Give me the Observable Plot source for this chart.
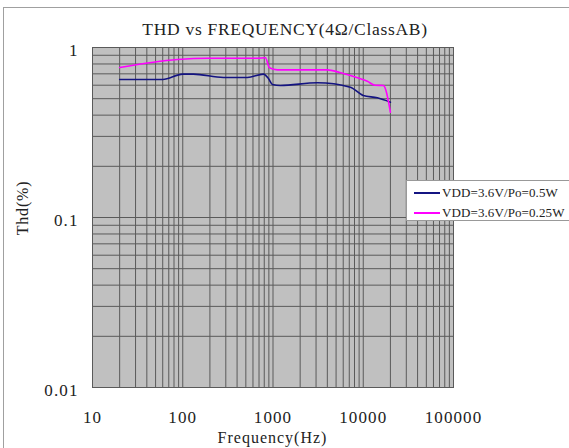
<!DOCTYPE html>
<html>
<head>
<meta charset="utf-8">
<script src="https://cdn.jsdelivr.net/npm/d3@7"></script>
<script src="https://cdn.jsdelivr.net/npm/@observablehq/plot@0.6"></script>
<style>
  html, body { margin: 0; padding: 0; background: #fff; }
  #wrap { position: relative; width: 569px; height: 448px; overflow: hidden; font-family: "Liberation Serif", serif; }
  #border { position: absolute; left: 3px; top: 7px; width: 700px; height: 600px; border-left: 1px solid #a0a0a0; border-top: 1px solid #a0a0a0; }
  #title { position: absolute; left: 0; width: 570px; top: 19px; text-align: center; font-size: 17.5px; letter-spacing: 0.7px; color: #222; }
  #ylabel { position: absolute; left: 23px; top: 208px; transform: translate(-50%, -50%) rotate(-90deg); font-size: 16px; letter-spacing: 0.8px; white-space: nowrap; color: #222; }
  #xlabel { position: absolute; left: 0; width: 545px; top: 429px; text-align: center; font-size: 16px; letter-spacing: 1px; color: #222; }
  #legend { position: absolute; left: 406px; top: 180px; width: 200px; height: 39px; background: #fff; border: 1px solid #999; }
  .row { position: absolute; left: 0; height: 18px; display: flex; align-items: center; font-size: 13px; letter-spacing: 0.1px; white-space: nowrap; color: #222; }
  .sw { width: 26px; height: 2px; margin-left: 7px; margin-right: 2px; }
  svg { position: absolute; left: 0; top: 0; }
</style>
</head>
<body>
<div id="wrap">
  <div id="border"></div>
  <div id="chart"></div>
  <div id="title"></div>
  <div id="ylabel"></div>
  <div id="xlabel"></div>
  <div id="legend"></div>
</div>
<script>
const titleText = "THD vs FREQUENCY(4Ω/ClassAB)";
const xLabelText = "Frequency(Hz)";
const yLabelText = "Thd(%)";

const seriesNames = ["VDD=3.6V/Po=0.5W", "VDD=3.6V/Po=0.25W"];
const seriesColors = ["#141482", "#ff00ff"];

// Series 1: VDD=3.6V/Po=0.5W
const freq05 = [20, 60, 100, 131, 282, 521, 783, 890, 985, 1208, 3105, 7197, 10000, 14320, 20000];
const thd05  = [0.648, 0.648, 0.697, 0.697, 0.666, 0.666, 0.697, 0.657, 0.606, 0.598, 0.620, 0.584, 0.522, 0.506, 0.477];

// Series 2: VDD=3.6V/Po=0.25W
const freq025 = [20, 87, 187, 671, 824, 912, 1118, 4000, 5500, 7200, 11100, 13500, 16700, 20000];
const thd025  = [0.763, 0.850, 0.865, 0.865, 0.870, 0.760, 0.739, 0.739, 0.713, 0.684, 0.633, 0.600, 0.598, 0.416];

const xTicks = [10, 100, 1000, 10000, 100000];
const xTickLabels = ["10", "100", "1000", "10000", "100000"];
const yTicks = [0.01, 0.1, 1];
const yTickLabels = ["0.01", "0.1", "1"];

// log grid: 1..9 x each decade
const xGrid = [];
for (let e = 1; e <= 4; e++) for (let m = 1; m <= 9; m++) xGrid.push(m * 10 ** e);
xGrid.push(100000);
const yGrid = [];
for (let e = -2; e <= -1; e++) for (let m = 1; m <= 9; m++) yGrid.push(+(m * 10 ** e).toFixed(4));
yGrid.push(1);

const data05 = freq05.map((f, i) => ({f, v: thd05[i]}));
const data025 = freq025.map((f, i) => ({f, v: thd025[i]}));

const gridColor = "#5a5a5a";

const chart = Plot.plot({
  width: 569,
  height: 448,
  marginLeft: 92,
  marginRight: 116,
  marginTop: 47,
  marginBottom: 61,
  style: { fontFamily: "Liberation Serif, serif", fontSize: "17px", background: "transparent", color: "#222", letterSpacing: "1.1px" },
  x: { type: "log", domain: [10, 100000] },
  y: { type: "log", domain: [0.01, 1] },
  marks: [
    Plot.frame({ fill: "#c0c0c0" }),
    Plot.ruleX(xGrid, { stroke: gridColor, strokeWidth: 1 }),
    Plot.ruleY(yGrid, { stroke: gridColor, strokeWidth: 1 }),
    Plot.frame({ stroke: gridColor, strokeWidth: 1 }),
    Plot.axisX({ ticks: xTicks, tickFormat: (d) => xTickLabels[xTicks.indexOf(d)], tickSize: 0, tickPadding: 23, label: null }),
    Plot.axisY({ ticks: yTicks, tickFormat: (d) => yTickLabels[yTicks.indexOf(d)], tickSize: 0, tickPadding: 14, dy: 3, label: null }),
    Plot.line(data05, { x: "f", y: "v", stroke: seriesColors[0], strokeWidth: 1.6, curve: "monotone-x" }),
    Plot.line(data025, { x: "f", y: "v", stroke: seriesColors[1], strokeWidth: 1.6, curve: "monotone-x" })
  ]
});
document.getElementById("chart").appendChild(chart);

document.getElementById("title").textContent = titleText;
document.getElementById("xlabel").textContent = xLabelText;
document.getElementById("ylabel").textContent = yLabelText;

const legend = document.getElementById("legend");
seriesNames.forEach((name, i) => {
  const row = document.createElement("div");
  row.className = "row";
  row.style.top = (3 + i * 20) + "px";
  const sw = document.createElement("span");
  sw.className = "sw";
  sw.style.background = seriesColors[i];
  const t = document.createElement("span");
  t.textContent = name;
  row.appendChild(sw);
  row.appendChild(t);
  legend.appendChild(row);
});
</script>
</body>
</html>
